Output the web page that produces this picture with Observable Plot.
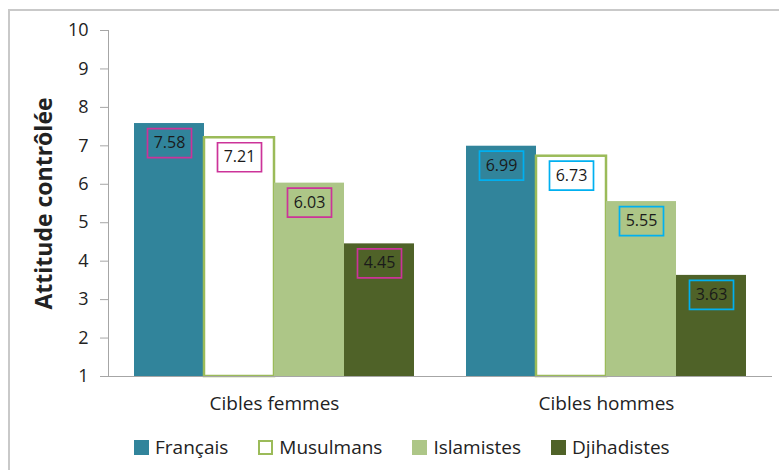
<!DOCTYPE html>
<html>
<head>
<meta charset="utf-8">
<script src="https://cdn.jsdelivr.net/npm/d3@7"></script>
<script src="https://cdn.jsdelivr.net/npm/@observablehq/plot@0.6"></script>
<style>
  html, body { margin: 0; padding: 0; background: #fff; }
  body { width: 779px; height: 470px; position: relative; overflow: hidden; font-family: "Open Sans", sans-serif; }
  #frame { position: absolute; left: 8px; top: 9px; width: 820px; height: 520px; border-left: 2px solid #c9c9c9; border-top: 2px solid #c9c9c9; }
  #chart { position: absolute; left: 0; top: 0; }
  #legend { position: absolute; left: 134px; top: 434px; display: flex; align-items: center; font-size: 19px; color: #222; white-space: nowrap; }
  .item { display: flex; align-items: center; margin-right: 30px; }
  .sw { width: 15px; height: 15px; box-sizing: border-box; margin-right: 6px; }
  #chart svg text { font-family: "Open Sans", sans-serif; }
  #chart g[aria-label="y-axis label"] text { font-weight: bold; font-size: 23px; }
</style>
</head>
<body>
<div id="frame"></div>
<div id="chart"></div>
<div id="legend"></div>
<script>
const groups = ["Cibles femmes", "Cibles hommes"];
const series = ["Français", "Musulmans", "Islamistes", "Djihadistes"];
const femmes = [7.58, 7.21, 6.03, 4.45];
const hommes = [6.99, 6.73, 5.55, 3.63];
const yTicks = [1, 2, 3, 4, 5, 6, 7, 8, 9, 10];
const fillColors = ["#31849b", "#ffffff", "#adc687", "#4f6228"];
const outlineColors = ["none", "#9bbb59", "none", "none"];
const boxColors = ["#cc3399", "#00b0f0"];

const values = [femmes, hommes];
const data = groups.flatMap((g, gi) => series.map((s, si) => ({
  group: g, gi, series: s, si, value: values[gi][si]
})));

const boxSymbol = { draw(ctx) { ctx.rect(-22, -14.5, 44, 29); } };

const chart = Plot.plot({
  width: 779,
  height: 425,
  marginLeft: 108,
  marginRight: 7,
  marginTop: 30,
  marginBottom: 49,
  style: { fontFamily: "Open Sans", fontSize: "17px", color: "#222", background: "transparent" },
  fx: { domain: groups, padding: 0, label: null },
  x: { domain: series, paddingInner: 0, paddingOuter: 0.37, axis: null },
  y: { domain: [1, 10] },
  color: { domain: series, range: fillColors },
  marks: [
    Plot.axisY({ ticks: yTicks, tickSize: 8, tickPadding: 12, stroke: "#a6a6a6", fill: "#222",
      label: "Attitude contrôlée", labelAnchor: "center", labelOffset: 73, labelArrow: "none", fontSize: 18 }),
    Plot.frame({ anchor: "left", facetAnchor: "left", stroke: "#a6a6a6" }),
    Plot.axisFx({ anchor: "bottom", tickSize: 0, tickPadding: 20, label: null, fontSize: 19, fill: "#222" }),
    Plot.barY(data, { fx: "group", x: "series", y1: 1, y2: "value", fill: "series",
      stroke: d => outlineColors[d.si], strokeWidth: 2.5 }),
    Plot.ruleY([1], { stroke: "#a6a6a6" }),
    Plot.dot(data, { fx: "group", x: "series", y: "value", dy: 19.5, symbol: boxSymbol,
      stroke: d => boxColors[d.gi], strokeWidth: 1.7, fill: "none" }),
    Plot.text(data, { fx: "group", x: "series", y: "value", dy: 19.5, text: d => d.value.toFixed(2),
      fontSize: 16, fill: "#1a1a1a" })
  ]
});
document.getElementById("chart").appendChild(chart);

const legend = document.getElementById("legend");
series.forEach((s, i) => {
  const item = document.createElement("div");
  item.className = "item";
  const sw = document.createElement("span");
  sw.className = "sw";
  sw.style.background = fillColors[i];
  if (outlineColors[i] !== "none") sw.style.border = "2.5px solid " + outlineColors[i];
  const lab = document.createElement("span");
  lab.textContent = s;
  item.appendChild(sw);
  item.appendChild(lab);
  legend.appendChild(item);
});
</script>
</body>
</html>
